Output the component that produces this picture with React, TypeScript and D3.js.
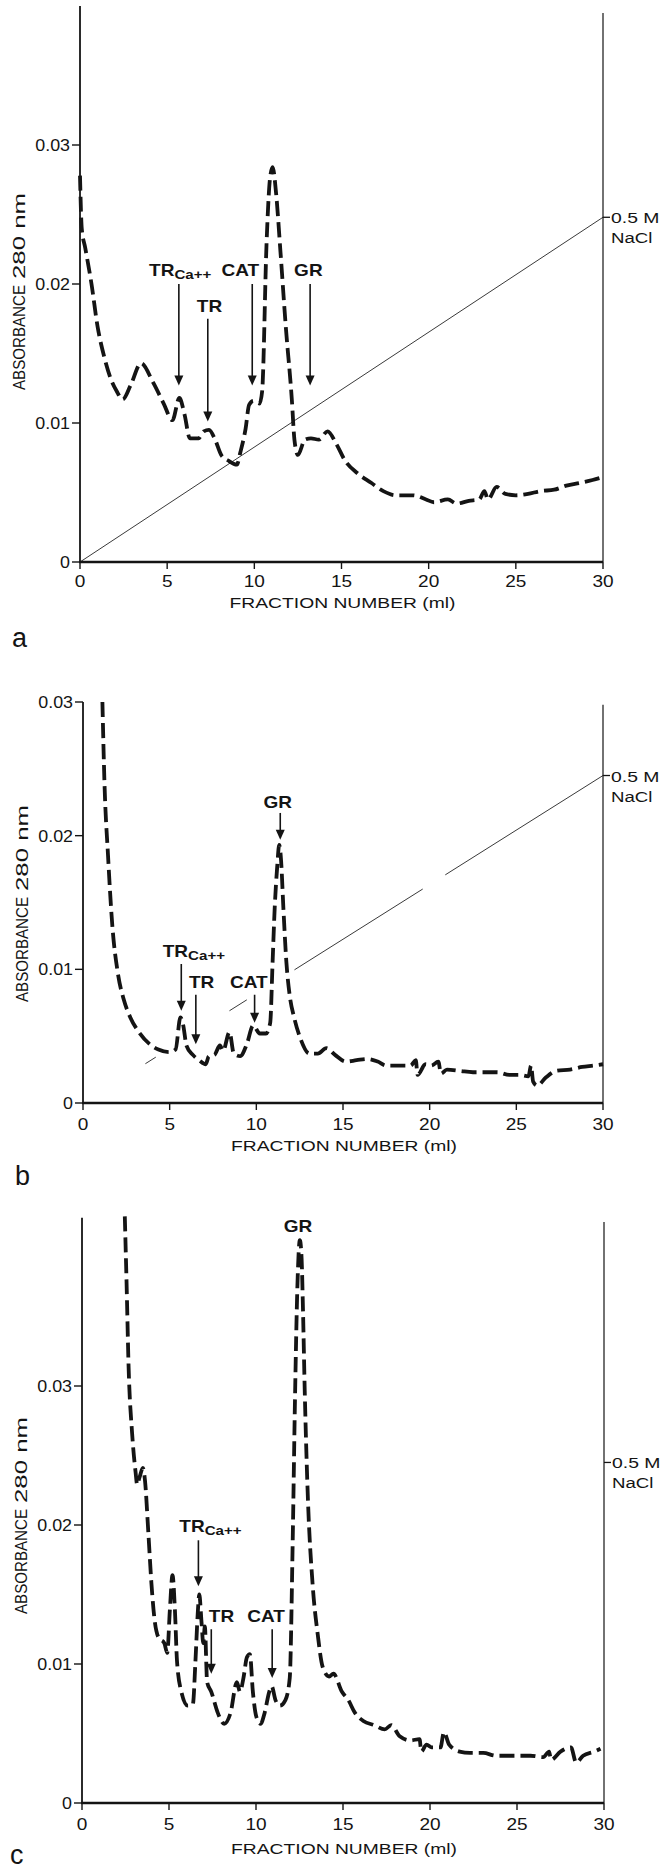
import React from "react";
import * as d3 from "d3";

const W = 666;
const H = 1870;
const FONT = "'Liberation Sans', Arial, Helvetica, sans-serif";
const INK = "#141414";

// ---- panel a : fraction (ml) / absorbance 280 nm
const fractionA = [0, 0.1, 0.3, 0.66, 1.0, 1.4, 1.76, 2.1, 2.45, 2.9, 3.5, 4.2, 4.8, 5.3, 5.7, 6.0, 6.3, 6.8, 7.1, 7.4, 7.75, 8.1, 8.5, 9.0, 9.2, 9.5, 9.7, 9.95, 10.3, 10.45, 10.7, 10.9, 11.05, 11.25, 11.5, 11.8, 12.15, 12.3, 12.5, 12.9, 13.25, 13.7, 14.2, 14.7, 15.2, 15.9, 16.7, 17.4, 18.1, 19.1, 19.85, 20.3, 21.1, 21.6, 22.3, 22.9, 23.2, 23.4, 23.9, 24.4, 25.0, 25.7, 26.4, 27.2, 27.9, 28.7, 29.4, 30];
const absorbanceA = [0.0278, 0.024, 0.0226, 0.02, 0.017, 0.0147, 0.0132, 0.0123, 0.0117, 0.0127, 0.0143, 0.0129, 0.0114, 0.0102, 0.0118, 0.0106, 0.0089, 0.0089, 0.0094, 0.0095, 0.0088, 0.0077, 0.0073, 0.007, 0.0079, 0.0096, 0.0113, 0.0116, 0.0114, 0.0123, 0.0229, 0.0276, 0.0284, 0.0265, 0.0223, 0.017, 0.0117, 0.0088, 0.0077, 0.0088, 0.0089, 0.0088, 0.0094, 0.0085, 0.0073, 0.0064, 0.0057, 0.0051, 0.0048, 0.0048, 0.0045, 0.0043, 0.0045, 0.0042, 0.0044, 0.0045, 0.0051, 0.0045, 0.0054, 0.0049, 0.0048, 0.0049, 0.0051, 0.0052, 0.0055, 0.0057, 0.0059, 0.0061];

// ---- panel b
const fractionB = [1.12, 1.24, 1.44, 1.69, 2.0, 2.36, 2.73, 3.23, 3.85, 4.35, 4.97, 5.34, 5.62, 5.77, 5.97, 6.34, 6.7, 7.08, 7.26, 7.58, 7.9, 8.08, 8.45, 8.7, 9.07, 9.45, 9.82, 10.2, 10.56, 10.8, 10.94, 11.06, 11.2, 11.32, 11.43, 11.56, 11.73, 11.93, 12.18, 12.55, 13.05, 13.55, 14.04, 14.54, 15.16, 15.78, 16.4, 17.0, 17.5, 18.15, 18.9, 19.2, 19.3, 19.76, 20.1, 20.5, 20.65, 21.0, 21.75, 22.5, 23.24, 23.9, 24.6, 25.2, 25.7, 25.85, 25.97, 26.2, 26.7, 27.3, 28.1, 28.8, 29.45, 30];
const absorbanceB = [0.03, 0.0239, 0.0186, 0.0133, 0.0098, 0.0077, 0.0064, 0.0053, 0.0044, 0.004, 0.0038, 0.004, 0.0064, 0.0059, 0.0043, 0.0036, 0.0032, 0.0029, 0.0035, 0.0036, 0.0043, 0.0039, 0.0053, 0.0037, 0.0035, 0.0044, 0.0058, 0.0052, 0.0052, 0.006, 0.0106, 0.0146, 0.0176, 0.0193, 0.0181, 0.0146, 0.0106, 0.008, 0.0064, 0.0048, 0.0037, 0.0037, 0.0041, 0.0036, 0.0031, 0.0032, 0.0033, 0.0031, 0.0028, 0.0028, 0.0028, 0.0032, 0.0021, 0.0029, 0.0028, 0.0031, 0.0022, 0.0025, 0.0024, 0.0023, 0.0023, 0.0023, 0.0021, 0.0021, 0.002, 0.0028, 0.0016, 0.0013, 0.0019, 0.0024, 0.0025, 0.0027, 0.0028, 0.0029];

// ---- panel c
const fractionC = [2.46, 2.56, 2.68, 2.88, 3.08, 3.17, 3.3, 3.5, 3.62, 3.81, 3.99, 4.16, 4.4, 4.73, 4.9, 5.05, 5.2, 5.34, 5.46, 5.71, 6.08, 6.37, 6.52, 6.65, 6.74, 6.87, 6.97, 7.06, 7.19, 7.43, 7.8, 8.17, 8.54, 8.9, 9.08, 9.28, 9.48, 9.65, 9.82, 10.02, 10.26, 10.5, 10.76, 10.9, 11.12, 11.37, 11.69, 11.94, 12.11, 12.24, 12.38, 12.52, 12.62, 12.7, 12.8, 12.98, 13.25, 13.55, 13.83, 14.2, 14.45, 14.94, 15.31, 15.68, 16.17, 16.79, 17.4, 17.77, 18.26, 18.88, 19.4, 19.5, 19.8, 20.1, 20.6, 20.8, 21.1, 21.7, 22.3, 23.06, 23.8, 24.8, 25.77, 26.5, 26.85, 26.95, 27.5, 28.1, 28.4, 28.8, 29.45, 29.8];
const absorbanceC = [0.0422, 0.0375, 0.0313, 0.0266, 0.0238, 0.0229, 0.0234, 0.0241, 0.0232, 0.0195, 0.0158, 0.0133, 0.0119, 0.0115, 0.0108, 0.0139, 0.0164, 0.0139, 0.0102, 0.008, 0.007, 0.0071, 0.0102, 0.0136, 0.015, 0.013, 0.0115, 0.0127, 0.0087, 0.008, 0.0065, 0.0057, 0.0065, 0.0087, 0.008, 0.009, 0.0105, 0.0107, 0.008, 0.0062, 0.0057, 0.0065, 0.008, 0.0084, 0.0074, 0.007, 0.0074, 0.009, 0.0189, 0.029, 0.0372, 0.0405, 0.0392, 0.0355, 0.0297, 0.022, 0.0158, 0.0121, 0.0098, 0.0091, 0.0093, 0.008, 0.0074, 0.0065, 0.0059, 0.0056, 0.0053, 0.0056, 0.0048, 0.0045, 0.0046, 0.0037, 0.0042, 0.004, 0.004, 0.0051, 0.0042, 0.0037, 0.0036, 0.0036, 0.0034, 0.0034, 0.0034, 0.0033, 0.0037, 0.0031, 0.0037, 0.004, 0.0029, 0.0034, 0.0037, 0.0039];

const xTicks = [0, 5, 10, 15, 20, 25, 30];
const yTicks = [0, 0.01, 0.02, 0.03];

// peak markers: name, subscript, label x / baseline, arrow x, arrow start, arrow tip
const markerNames = ["TR", "TR", "CAT", "GR"];
const markerSubs = ["Ca++", "", "", ""];

const labelXA = [3.96, 7.43, 9.2, 13.1];
const labelYA = [0.0206, 0.018, 0.0206, 0.0206];
const arrowXA = [5.67, 7.33, 9.88, 13.2];
const arrowFromA = [0.02, 0.0175, 0.02, 0.02];
const arrowToA = [0.0127, 0.0101, 0.0127, 0.0127];

const labelXB = [4.6, 6.84, 9.57, 11.24];
const labelYB = [0.0109, 0.0086, 0.0086, 0.0221];
const arrowXB = [5.67, 6.51, 9.9, 11.38];
const arrowFromB = [0.0104, 0.0081, 0.0081, 0.0217];
const arrowToB = [0.0069, 0.0044, 0.006, 0.0197];

const labelXC = [5.59, 8.02, 10.58, 12.41];
const labelYC = [0.0195, 0.013, 0.013, 0.0411];
const arrowXC = [6.69, 7.43, 10.93, null];
const arrowFromC = [0.0189, 0.0125, 0.0125, null];
const arrowToC = [0.0156, 0.0093, 0.009, null];

// NaCl gradient (0 -> 0.5 M over 30 ml), drawn segments in ml
const gradientEndA = 0.0248;
const gradientEndB = 0.0245;
const gradientSegA = [[0, 30]];
const gradientSegB = [[3.6, 4.2], [8.45, 9.45], [12.2, 19.6], [20.9, 30]];
const naclTickC = 0.0245;

function T({ x, y, size, sx = 1.12, anchor = "start", weight = 400, children }: any) {
  return (
    <text
      transform={`translate(${x},${y}) scale(${sx},1)`}
      fontSize={size}
      fontWeight={weight}
      textAnchor={anchor}
      fontFamily={FONT}
      fill={INK}
    >
      {children}
    </text>
  );
}

function Panel(p: any) {
  const x = d3.scaleLinear().domain([0, 30]).range([p.x0, p.x1]);
  const y = d3.scaleLinear().domain([0, 0.03]).range([p.y0, p.y3]);
  const line = d3
    .line<number>()
    .x((d) => x(d))
    .y((_, i) => y(p.absorbance[i]))
    .curve(d3.curveMonotoneX);

  const c = p.ylabBottom;
  return (
    <g>
      {/* gradient line */}
      {p.gradSeg.map((s: number[], i: number) => (
        <line
          key={i}
          x1={x(s[0])}
          y1={y((s[0] / 30) * p.gradEnd)}
          x2={x(s[1])}
          y2={y((s[1] / 30) * p.gradEnd)}
          stroke="#3a3a3a"
          strokeWidth={1}
        />
      ))}

      {/* axes */}
      <line x1={x(0)} x2={x(0)} y1={y(p.top)} y2={y(0)} stroke={INK} strokeWidth={1.8} />
      <line x1={x(0) - 1} x2={x(30)} y1={y(0)} y2={y(0)} stroke={INK} strokeWidth={2.4} />
      <line x1={x(30)} x2={x(30)} y1={y(p.rightTop)} y2={y(0)} stroke={INK} strokeWidth={1.2} />
      <line x1={x(30)} x2={x(30) + 7} y1={y(p.nacl)} y2={y(p.nacl)} stroke={INK} strokeWidth={1.3} />
      <T x={x(30) + 8} y={y(p.nacl) + 6} size={15.5} sx={1.25}>0.5 M</T>
      <T x={x(30) + 8} y={y(p.nacl) + 26} size={15.5} sx={1.2}>NaCl</T>

      {yTicks.map((t) => (
        <g key={t}>
          <line x1={x(0) - 8} x2={x(0)} y1={y(t)} y2={y(t)} stroke={INK} strokeWidth={1.4} />
          <T x={x(0) - 10} y={y(t) + 6} size={17} sx={1.05} anchor="end">
            {t === 0 ? "0" : d3.format(".2f")(t)}
          </T>
        </g>
      ))}
      {xTicks.map((t) => (
        <g key={t}>
          <line x1={x(t)} x2={x(t)} y1={y(0)} y2={y(0) + 7} stroke={INK} strokeWidth={1.4} />
          <T x={x(t)} y={y(0) + p.tickDy} size={17} sx={1.12} anchor="middle">{t}</T>
        </g>
      ))}
      <T x={(x(0) + x(30)) / 2 + 1} y={y(0) + p.titleDy} size={14.5} sx={1.33} anchor="middle">
        FRACTION NUMBER (ml)
      </T>

      {/* y label */}
      <text
        transform={`translate(${p.ylabX},${c}) rotate(-90)`}
        fontSize={16.5}
        fontFamily={FONT}
        fill={INK}
        textLength={105}
        lengthAdjust="spacingAndGlyphs"
      >
        ABSORBANCE
      </text>
      <text
        transform={`translate(${p.ylabX},${c - 111}) rotate(-90)`}
        fontSize={16.5}
        fontFamily={FONT}
        fill={INK}
        textLength={86}
        lengthAdjust="spacingAndGlyphs"
      >
        280 nm
      </text>

      {/* elution profile */}
      <path
        d={line(p.fraction) || ""}
        fill="none"
        stroke={INK}
        strokeWidth={3.8}
        strokeDasharray="15 6"
        strokeLinejoin="round"
      />

      {/* peak markers */}
      {markerNames.map((n, i) => {
        const ax = p.arrowX[i];
        const sub = markerSubs[i];
        return (
          <g key={i}>
            <T
              x={x(p.labelX[i])}
              y={y(p.labelY[i])}
              size={17}
              sx={1.12}
              weight={700}
              anchor={sub ? "start" : "middle"}
            >
              {n}
              {sub ? (
                <tspan fontSize={13.5} dy={3}>
                  {sub}
                </tspan>
              ) : null}
            </T>
            {ax != null ? (
              <g>
                <line
                  x1={x(ax)}
                  x2={x(ax)}
                  y1={y(p.arrowFrom[i])}
                  y2={y(p.arrowTo[i]) - 8}
                  stroke={INK}
                  strokeWidth={1.6}
                />
                <path
                  d={`M${x(ax) - 4.5},${y(p.arrowTo[i]) - 10}L${x(ax) + 4.5},${y(p.arrowTo[i]) - 10}L${x(ax)},${y(p.arrowTo[i])}Z`}
                  fill={INK}
                />
              </g>
            ) : null}
          </g>
        );
      })}

      <text x={p.letterX} y={p.letterY} fontSize={27} fontFamily={FONT} fill={INK}>
        {p.letter}
      </text>
    </g>
  );
}

export default function App() {
  return (
    <svg
      width={W}
      height={H}
      style={{ position: "absolute", left: 0, top: 0, background: "#fff" }}
    >
      <rect width={W} height={H} fill="#fff" />
      <Panel
        fraction={fractionA}
        absorbance={absorbanceA}
        x0={80}
        x1={603}
        y0={562}
        y3={145}
        top={0.04}
        rightTop={0.0395}
        nacl={gradientEndA}
        gradEnd={gradientEndA}
        gradSeg={gradientSegA}
        labelX={labelXA}
        labelY={labelYA}
        arrowX={arrowXA}
        arrowFrom={arrowFromA}
        arrowTo={arrowToA}
        tickDy={25}
        titleDy={46}
        ylabX={25}
        ylabBottom={390}
        letter="a"
        letterX={12}
        letterY={647}
      />
      <Panel
        fraction={fractionB}
        absorbance={absorbanceB}
        x0={83}
        x1={603}
        y0={1103}
        y3={702}
        top={0.03}
        rightTop={0.0298}
        nacl={gradientEndB}
        gradEnd={gradientEndB}
        gradSeg={gradientSegB}
        labelX={labelXB}
        labelY={labelYB}
        arrowX={arrowXB}
        arrowFrom={arrowFromB}
        arrowTo={arrowToB}
        tickDy={27}
        titleDy={48}
        ylabX={28}
        ylabBottom={1002}
        letter="b"
        letterX={15}
        letterY={1185}
      />
      <Panel
        fraction={fractionC}
        absorbance={absorbanceC}
        x0={82}
        x1={604}
        y0={1803}
        y3={1386}
        top={0.0421}
        rightTop={0.0418}
        nacl={naclTickC}
        gradEnd={naclTickC}
        gradSeg={[]}
        labelX={labelXC}
        labelY={labelYC}
        arrowX={arrowXC}
        arrowFrom={arrowFromC}
        arrowTo={arrowToC}
        tickDy={27}
        titleDy={51}
        ylabX={27}
        ylabBottom={1614}
        letter="c"
        letterX={10}
        letterY={1864}
      />
    </svg>
  );
}
